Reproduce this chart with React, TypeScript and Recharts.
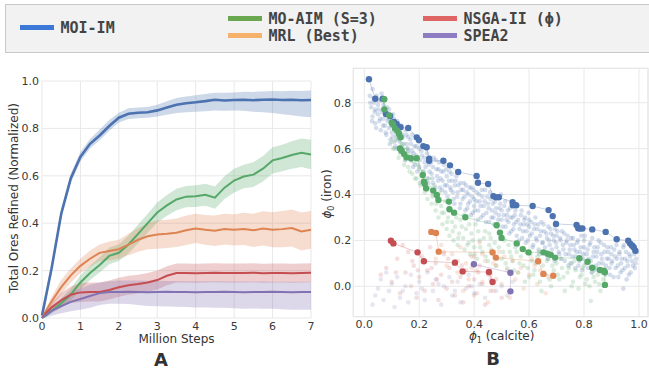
import React from 'react';
import {
  ComposedChart, Area, Line, XAxis, YAxis, CartesianGrid,
  ScatterChart, Scatter, ReferenceArea,
} from 'recharts';

// ---------- Panel A data ----------
const steps = [0, 0.1, 0.25, 0.5, 0.75, 1, 1.25, 1.5, 1.75, 2, 2.25, 2.5, 2.75, 3, 3.25, 3.5, 3.75, 4, 4.25, 4.5, 4.75, 5, 5.25, 5.5, 5.75, 6, 6.25, 6.5, 6.75, 7];

const moiMean = [0.01, 0.09, 0.21, 0.44, 0.59, 0.68, 0.735, 0.77, 0.81, 0.845, 0.862, 0.866, 0.868, 0.876, 0.888, 0.9, 0.906, 0.91, 0.915, 0.921, 0.918, 0.92, 0.921, 0.919, 0.921, 0.922, 0.92, 0.921, 0.919, 0.92];
const moiLo = [0.0, 0.07, 0.19, 0.42, 0.57, 0.66, 0.715, 0.75, 0.79, 0.825, 0.84, 0.843, 0.845, 0.85, 0.858, 0.865, 0.868, 0.87, 0.872, 0.876, 0.875, 0.876, 0.874, 0.87, 0.868, 0.865, 0.86, 0.856, 0.85, 0.847];
const moiHi = [0.02, 0.11, 0.23, 0.46, 0.61, 0.7, 0.755, 0.795, 0.835, 0.866, 0.885, 0.888, 0.89, 0.9, 0.915, 0.928, 0.935, 0.94, 0.945, 0.95, 0.95, 0.952, 0.955, 0.954, 0.956, 0.958, 0.957, 0.959, 0.958, 0.96];

const aimMean = [0, 0.01, 0.03, 0.062, 0.1, 0.15, 0.19, 0.224, 0.262, 0.275, 0.31, 0.355, 0.4, 0.445, 0.475, 0.5, 0.512, 0.514, 0.52, 0.508, 0.55, 0.58, 0.597, 0.605, 0.63, 0.665, 0.675, 0.688, 0.697, 0.69];
const aimLo = [0, 0.005, 0.02, 0.042, 0.075, 0.12, 0.16, 0.192, 0.227, 0.24, 0.272, 0.315, 0.36, 0.403, 0.431, 0.455, 0.467, 0.468, 0.474, 0.461, 0.502, 0.53, 0.547, 0.553, 0.576, 0.61, 0.619, 0.63, 0.637, 0.628];
const aimHi = [0, 0.015, 0.04, 0.082, 0.125, 0.18, 0.22, 0.256, 0.297, 0.31, 0.348, 0.395, 0.44, 0.487, 0.519, 0.545, 0.557, 0.56, 0.566, 0.555, 0.598, 0.63, 0.647, 0.657, 0.684, 0.72, 0.731, 0.746, 0.757, 0.752];

const mrlMean = [0, 0.03, 0.07, 0.13, 0.18, 0.22, 0.25, 0.275, 0.283, 0.29, 0.31, 0.33, 0.345, 0.352, 0.355, 0.36, 0.37, 0.378, 0.372, 0.368, 0.375, 0.372, 0.376, 0.37, 0.378, 0.372, 0.375, 0.38, 0.365, 0.372];
const mrlLo = [0, 0.02, 0.05, 0.1, 0.15, 0.19, 0.215, 0.24, 0.243, 0.25, 0.265, 0.28, 0.29, 0.292, 0.295, 0.3, 0.308, 0.316, 0.309, 0.304, 0.31, 0.306, 0.308, 0.3, 0.306, 0.298, 0.299, 0.302, 0.285, 0.292];
const mrlHi = [0, 0.04, 0.09, 0.16, 0.21, 0.25, 0.285, 0.31, 0.323, 0.33, 0.355, 0.38, 0.4, 0.412, 0.415, 0.42, 0.432, 0.44, 0.435, 0.432, 0.44, 0.438, 0.444, 0.44, 0.45, 0.446, 0.451, 0.458, 0.445, 0.452];

const nsgaMean = [0, 0.02, 0.045, 0.075, 0.098, 0.108, 0.11, 0.11, 0.118, 0.13, 0.138, 0.143, 0.15, 0.16, 0.178, 0.19, 0.19, 0.189, 0.19, 0.191, 0.19, 0.19, 0.19, 0.191, 0.189, 0.19, 0.19, 0.189, 0.19, 0.191];
const nsgaLo = [0, 0.01, 0.025, 0.045, 0.063, 0.068, 0.07, 0.07, 0.078, 0.09, 0.098, 0.103, 0.11, 0.12, 0.138, 0.15, 0.15, 0.149, 0.15, 0.151, 0.15, 0.15, 0.15, 0.151, 0.149, 0.15, 0.15, 0.149, 0.15, 0.151];
const nsgaHi = [0, 0.03, 0.065, 0.105, 0.133, 0.148, 0.15, 0.15, 0.158, 0.17, 0.178, 0.183, 0.19, 0.2, 0.218, 0.23, 0.23, 0.229, 0.23, 0.231, 0.23, 0.23, 0.23, 0.231, 0.229, 0.23, 0.23, 0.229, 0.23, 0.231];

const speaMean = [0, 0.012, 0.03, 0.05, 0.068, 0.08, 0.093, 0.105, 0.11, 0.11, 0.111, 0.11, 0.109, 0.11, 0.111, 0.11, 0.11, 0.109, 0.11, 0.11, 0.111, 0.11, 0.109, 0.11, 0.11, 0.111, 0.11, 0.109, 0.11, 0.11];
const speaLo = [0, 0.002, 0.01, 0.02, 0.028, 0.035, 0.043, 0.055, 0.06, 0.06, 0.059, 0.055, 0.051, 0.05, 0.049, 0.047, 0.046, 0.044, 0.044, 0.043, 0.043, 0.041, 0.039, 0.04, 0.039, 0.039, 0.037, 0.035, 0.035, 0.035];
const speaHi = [0, 0.022, 0.05, 0.08, 0.108, 0.125, 0.14, 0.15, 0.155, 0.158, 0.158, 0.158, 0.157, 0.157, 0.156, 0.156, 0.155, 0.155, 0.155, 0.155, 0.155, 0.154, 0.154, 0.154, 0.154, 0.153, 0.153, 0.153, 0.153, 0.153];

const stepTicks = [0, 1, 2, 3, 4, 5, 6, 7];
const refinedTicks = [0, 0.2, 0.4, 0.6, 0.8, 1.0];

// ---------- Panel B data ([phi1, phi0]) ----------
const moiCloud = [
  [0.02,0.83],[0.025,0.78],[0.03,0.86],[0.03,0.74],[0.035,0.8],[0.04,0.71],[0.04,0.77],[0.045,0.83],[0.05,0.75],[0.05,0.79],[0.055,0.72],[0.06,0.81],[0.06,0.68],[0.065,0.76],
  [0.07,0.73],[0.07,0.79],[0.075,0.7],[0.08,0.75],[0.08,0.66],[0.085,0.72],[0.09,0.77],[0.09,0.69],[0.095,0.64],[0.1,0.72],[0.1,0.67],[0.105,0.75],[0.11,0.7],[0.11,0.63],[0.115,0.66],[0.12,0.72],[0.12,0.6],
  [0.13,0.67],[0.13,0.63],[0.135,0.7],[0.14,0.6],[0.14,0.65],[0.15,0.68],[0.15,0.57],[0.155,0.62],[0.16,0.65],[0.16,0.59],[0.17,0.55],[0.17,0.62],[0.175,0.66],[0.18,0.58],[0.185,0.53],[0.19,0.61],[0.19,0.56],[0.2,0.6],[0.2,0.52],
  [0.21,0.57],[0.215,0.5],[0.22,0.54],[0.225,0.6],[0.23,0.47],[0.235,0.53],[0.24,0.56],[0.245,0.49],[0.25,0.52],[0.25,0.45],[0.26,0.55],[0.265,0.48],[0.27,0.51],[0.275,0.43],[0.28,0.5],[0.285,0.46],[0.29,0.53],[0.295,0.41],[0.3,0.48],[0.3,0.44],
  [0.31,0.5],[0.315,0.42],[0.32,0.46],[0.325,0.38],[0.33,0.44],[0.335,0.48],[0.34,0.41],[0.35,0.45],[0.35,0.36],[0.36,0.42],[0.365,0.39],[0.37,0.44],[0.375,0.34],[0.38,0.4],[0.385,0.37],[0.39,0.43],[0.395,0.32],[0.4,0.38],[0.4,0.35],
  [0.41,0.41],[0.415,0.33],[0.42,0.37],[0.425,0.3],[0.43,0.39],[0.435,0.35],[0.44,0.42],[0.445,0.32],[0.45,0.36],[0.455,0.28],[0.46,0.38],[0.465,0.33],[0.47,0.3],[0.475,0.37],[0.48,0.34],[0.485,0.27],[0.49,0.31],[0.495,0.36],[0.5,0.29],[0.5,0.33],
  [0.51,0.35],[0.515,0.26],[0.52,0.31],[0.525,0.28],[0.53,0.34],[0.535,0.24],[0.54,0.3],[0.545,0.27],[0.55,0.33],[0.555,0.22],[0.56,0.29],[0.565,0.25],[0.57,0.31],[0.575,0.21],[0.58,0.27],[0.585,0.3],[0.59,0.24],[0.595,0.2],[0.6,0.26],[0.6,0.29],
  [0.61,0.23],[0.615,0.18],[0.62,0.27],[0.625,0.21],[0.63,0.25],[0.635,0.16],[0.64,0.22],[0.645,0.28],[0.65,0.19],[0.655,0.24],[0.66,0.15],[0.665,0.21],[0.67,0.26],[0.675,0.18],[0.68,0.23],[0.685,0.13],[0.69,0.2],[0.695,0.25],[0.7,0.17],[0.7,0.22],
  [0.71,0.14],[0.715,0.2],[0.72,0.24],[0.725,0.16],[0.73,0.11],[0.735,0.19],[0.74,0.22],[0.745,0.14],[0.75,0.18],[0.755,0.1],[0.76,0.21],[0.765,0.16],[0.77,0.13],[0.775,0.19],[0.78,0.09],[0.785,0.15],[0.79,0.22],[0.795,0.12],[0.8,0.17],[0.8,0.2],
  [0.81,0.14],[0.815,0.08],[0.82,0.18],[0.825,0.11],[0.83,0.21],[0.835,0.15],[0.84,0.07],[0.845,0.13],[0.85,0.17],[0.855,0.1],[0.86,0.19],[0.865,0.12],[0.87,0.06],[0.875,0.15],[0.88,0.09],[0.885,0.17],[0.89,0.12],[0.895,0.05],[0.9,0.14],[0.9,0.1],
  [0.91,0.16],[0.915,0.08],[0.92,0.12],[0.925,0.04],[0.93,0.15],[0.935,0.1],[0.94,0.07],[0.945,0.18],[0.95,0.12],[0.955,0.03],[0.96,0.09],[0.965,0.14],[0.97,0.06],[0.975,0.11],[0.98,0.16],[0.985,0.08],[0.99,0.12],[0.943,-0.01],
];
const moiCloud2 = [
  [0.022,0.8],[0.028,0.72],[0.033,0.82],[0.038,0.76],[0.043,0.69],[0.048,0.81],[0.053,0.77],[0.058,0.73],[0.063,0.84],[0.068,0.7],
  [0.073,0.76],[0.078,0.67],[0.083,0.78],[0.088,0.73],[0.093,0.62],[0.098,0.7],[0.103,0.65],[0.108,0.73],[0.113,0.61],[0.118,0.68],
  [0.123,0.64],[0.128,0.7],[0.133,0.59],[0.138,0.66],[0.143,0.62],[0.148,0.55],[0.153,0.66],[0.158,0.6],[0.163,0.56],[0.168,0.64],
  [0.173,0.59],[0.178,0.52],[0.183,0.61],[0.188,0.57],[0.193,0.5],[0.198,0.63],[0.203,0.55],[0.208,0.59],[0.213,0.48],[0.218,0.56],
  [0.223,0.52],[0.228,0.58],[0.233,0.45],[0.238,0.5],[0.243,0.54],[0.248,0.47],[0.253,0.56],[0.258,0.43],[0.263,0.51],[0.268,0.46],
  [0.273,0.54],[0.278,0.47],[0.283,0.42],[0.288,0.5],[0.293,0.44],[0.298,0.51],[0.303,0.39],[0.308,0.46],[0.313,0.43],[0.318,0.49],
  [0.323,0.41],[0.328,0.36],[0.333,0.46],[0.338,0.39],[0.343,0.44],[0.348,0.34],[0.353,0.42],[0.358,0.38],[0.363,0.45],[0.368,0.33],
  [0.373,0.41],[0.378,0.36],[0.383,0.43],[0.388,0.31],[0.393,0.39],[0.398,0.42],[0.403,0.33],[0.408,0.37],[0.413,0.29],[0.418,0.4],
  [0.423,0.35],[0.428,0.42],[0.433,0.31],[0.438,0.37],[0.443,0.28],[0.448,0.39],[0.453,0.34],[0.458,0.41],[0.463,0.3],[0.468,0.36],
  [0.473,0.27],[0.478,0.32],[0.483,0.39],[0.488,0.29],[0.493,0.34],[0.498,0.4],[0.503,0.26],[0.508,0.31],[0.513,0.37],[0.518,0.29],
  [0.523,0.33],[0.528,0.23],[0.533,0.3],[0.538,0.36],[0.543,0.25],[0.548,0.31],[0.553,0.28],[0.558,0.35],[0.563,0.2],[0.568,0.27],
  [0.573,0.33],[0.578,0.24],[0.583,0.29],[0.588,0.19],[0.593,0.27],[0.598,0.32],[0.603,0.22],[0.608,0.28],[0.613,0.17],[0.618,0.25],
  [0.623,0.3],[0.628,0.2],[0.633,0.27],[0.638,0.14],[0.643,0.24],[0.648,0.19],[0.653,0.27],[0.658,0.17],[0.663,0.23],[0.668,0.12],
  [0.673,0.2],[0.678,0.25],[0.683,0.16],[0.688,0.22],[0.693,0.11],[0.698,0.19],[0.703,0.24],[0.708,0.15],[0.713,0.21],[0.718,0.12],
  [0.723,0.18],[0.728,0.23],[0.733,0.14],[0.738,0.2],[0.743,0.09],[0.748,0.16],[0.753,0.21],[0.758,0.13],[0.763,0.18],[0.768,0.08],
  [0.773,0.15],[0.778,0.2],[0.783,0.11],[0.788,0.17],[0.793,0.07],[0.798,0.14],[0.803,0.22],[0.808,0.1],[0.813,0.16],[0.818,0.12],
  [0.823,0.19],[0.828,0.06],[0.833,0.13],[0.838,0.17],[0.843,0.09],[0.848,0.15],[0.853,0.2],[0.858,0.07],[0.863,0.14],[0.868,0.1],
  [0.873,0.18],[0.878,0.05],[0.883,0.12],[0.888,0.15],[0.893,0.08],[0.898,0.17],[0.903,0.11],[0.908,0.04],[0.913,0.13],[0.918,0.18],
  [0.923,0.09],[0.928,0.14],[0.933,0.06],[0.938,0.12],[0.943,0.17],[0.948,0.08],[0.953,0.15],[0.958,0.11],[0.963,0.05],[0.968,0.13],
  [0.973,0.17],[0.978,0.09],[0.983,0.14],[0.988,0.1],[0.993,0.15],
];
const aimCloud = [
  [0.1,0.63],[0.11,0.6],[0.12,0.65],[0.13,0.58],[0.14,0.62],[0.15,0.55],[0.155,0.6],[0.16,0.52],[0.17,0.57],[0.175,0.49],[0.18,0.54],[0.19,0.47],[0.2,0.51],[0.205,0.44],[0.21,0.48],[0.22,0.41],[0.225,0.46],[0.23,0.38],[0.24,0.43],[0.245,0.36],
  [0.25,0.4],[0.26,0.33],[0.265,0.38],[0.27,0.3],[0.28,0.35],[0.285,0.27],[0.29,0.32],[0.3,0.25],[0.305,0.3],[0.31,0.22],[0.32,0.28],[0.325,0.2],[0.33,0.26],[0.34,0.18],[0.345,0.23],[0.35,0.29],[0.36,0.21],[0.365,0.16],[0.37,0.25],[0.38,0.19],
  [0.385,0.14],[0.39,0.23],[0.4,0.17],[0.405,0.27],[0.41,0.12],[0.42,0.2],[0.43,0.15],[0.44,0.24],[0.45,0.11],[0.455,0.18],[0.46,0.21],[0.47,0.14],[0.48,0.09],[0.49,0.17],[0.5,0.12],[0.51,0.2],[0.52,0.08],[0.53,0.15],[0.54,0.11],[0.55,0.17],
  [0.56,0.06],[0.57,0.13],[0.58,0.09],[0.59,0.15],[0.6,0.04],[0.61,0.11],[0.62,0.07],[0.63,0.13],[0.64,0.02],[0.65,0.09],[0.66,0.05],[0.67,0.12],[0.68,0.0],[0.69,0.07],[0.7,0.1],[0.71,0.03],[0.72,0.08],[0.73,-0.02],[0.74,0.06],[0.75,0.1],
  [0.76,0.02],[0.77,0.07],[0.78,-0.01],[0.79,0.05],[0.8,0.09],[0.81,0.03],[0.82,0.0],[0.825,-0.064],[0.83,0.06],[0.84,0.02],[0.85,0.05],[0.86,-0.02],[0.87,0.03],[0.88,0.01],[0.645,-0.02],[0.585,0.02],
];
const aimCloud2 = [
  [0.105,0.6],[0.115,0.64],[0.125,0.56],[0.135,0.61],[0.145,0.53],[0.158,0.58],[0.165,0.5],[0.172,0.55],[0.185,0.47],[0.195,0.53],
  [0.202,0.45],[0.215,0.5],[0.228,0.42],[0.235,0.47],[0.248,0.39],[0.255,0.44],[0.262,0.36],[0.275,0.41],[0.282,0.32],[0.295,0.37],
  [0.302,0.28],[0.315,0.33],[0.322,0.24],[0.335,0.3],[0.342,0.21],[0.355,0.26],[0.362,0.31],[0.375,0.18],[0.382,0.27],[0.395,0.2],
  [0.402,0.14],[0.415,0.24],[0.422,0.17],[0.435,0.21],[0.442,0.13],[0.455,0.23],[0.462,0.16],[0.475,0.19],[0.485,0.12],[0.495,0.21],
  [0.505,0.15],[0.515,0.1],[0.525,0.18],[0.535,0.13],[0.545,0.07],[0.555,0.15],[0.565,0.1],[0.575,0.16],[0.595,0.08],[0.605,0.14],
  [0.615,0.05],[0.625,0.1],[0.635,0.15],[0.655,0.06],[0.665,0.11],[0.675,0.03],[0.685,0.09],[0.705,0.05],[0.715,0.12],[0.725,0.04],
  [0.745,0.08],[0.755,0.0],[0.765,0.11],[0.785,0.04],[0.795,0.08],[0.805,0.01],[0.835,0.04],[0.845,0.08],[0.855,0.01],[0.865,0.06],
];
const nsgaCloud = [
  [0.08,0.08],[0.1,0.02],[0.12,0.12],[0.13,-0.03],[0.15,0.06],[0.16,0.15],[0.17,0.0],[0.18,0.09],[0.19,-0.05],[0.2,0.04],[0.21,0.13],[0.22,-0.02],[0.23,0.07],[0.24,0.17],[0.25,0.01],[0.26,0.1],[0.27,-0.06],[0.28,0.05],[0.29,0.14],[0.3,-0.01],
  [0.31,0.08],[0.32,0.02],[0.33,-0.04],[0.34,0.11],[0.35,0.04],[0.36,-0.07],[0.37,0.07],[0.38,0.0],[0.39,0.13],[0.4,0.03],[0.41,-0.03],[0.42,0.09],[0.43,0.01],[0.44,-0.08],[0.45,0.05],[0.46,-0.02],[0.48,0.03],[0.5,-0.05],[0.14,0.18],[0.06,0.05],
  [0.115,0.06],[0.175,0.11],[0.245,0.08],[0.305,0.12],[0.355,0.09],[0.415,0.06],[0.265,0.03],[0.195,0.07],
];
const mrlCloud = [
  [0.26,0.12],[0.28,0.18],[0.3,0.09],[0.32,0.14],[0.34,0.06],[0.35,0.17],[0.37,0.1],[0.38,0.03],[0.4,0.13],[0.41,0.07],[0.42,0.19],[0.43,0.02],[0.44,0.11],[0.46,0.05],[0.47,-0.02],[0.48,0.09],[0.49,0.15],
  [0.5,0.01],[0.52,0.07],[0.53,-0.05],[0.54,0.11],[0.55,0.03],[0.57,0.08],[0.58,-0.01],[0.6,0.05],[0.61,0.12],[0.63,0.01],[0.64,0.07],[0.66,-0.03],[0.67,0.04],[0.45,-0.07],[0.51,0.13],[0.36,-0.02],[0.4,-0.04],
  [0.29,0.15],[0.33,0.11],[0.39,0.08],[0.43,0.14],[0.47,0.1],[0.56,0.06],[0.62,0.09],
];
const speaCloud = [
  [0.03,-0.08],[0.04,-0.04],[0.05,-0.01],[0.06,0.03],[0.07,-0.06],[0.08,0.06],[0.09,-0.02],[0.1,0.01],[0.11,-0.09],[0.12,0.04],[0.13,-0.05],[0.15,0.0],[0.16,-0.07],[0.17,0.05],[0.19,-0.03],[0.2,0.02],[0.22,-0.06],[0.23,0.06],
  [0.25,-0.02],[0.26,0.03],[0.28,-0.08],[0.29,0.0],[0.31,0.04],[0.32,-0.04],[0.34,0.02],[0.35,-0.07],[0.37,-0.01],[0.38,0.05],[0.4,-0.03],[0.42,0.01],[0.44,-0.05],[0.46,0.03],[0.48,-0.02],[0.5,0.0],[0.52,-0.04],[0.54,0.02],
  [0.14,-0.02],[0.21,-0.01],[0.27,0.01],[0.33,-0.02],[0.39,0.0],
];

const moiFront = [
  [0.017,0.902],[0.04,0.817],[0.067,0.817],[0.079,0.751],[0.094,0.742],[0.108,0.716],[0.118,0.707],[0.132,0.693],[0.16,0.69],[0.191,0.649],[0.199,0.637],[0.215,0.611],[0.227,0.606],[0.236,0.556],[0.236,0.547],
  [0.288,0.547],[0.312,0.527],[0.342,0.498],[0.409,0.481],[0.414,0.451],[0.451,0.446],[0.47,0.393],[0.479,0.388],[0.49,0.388],[0.54,0.367],[0.541,0.353],[0.553,0.353],[0.613,0.35],[0.671,0.332],[0.686,0.306],
  [0.698,0.272],[0.773,0.267],[0.779,0.253],[0.785,0.252],[0.794,0.252],[0.83,0.248],[0.879,0.237],[0.919,0.205],[0.961,0.199],[0.968,0.186],[0.975,0.178],[0.981,0.17],[0.987,0.155],
];
const aimFront = [
  [0.073,0.815],[0.073,0.771],[0.091,0.745],[0.1,0.713],[0.105,0.705],[0.112,0.688],[0.12,0.678],[0.127,0.664],[0.132,0.649],[0.13,0.601],[0.136,0.591],[0.145,0.576],[0.154,0.562],[0.17,0.558],[0.191,0.558],
  [0.213,0.485],[0.217,0.456],[0.22,0.447],[0.225,0.427],[0.251,0.417],[0.264,0.398],[0.27,0.376],[0.308,0.369],[0.31,0.336],[0.327,0.321],[0.368,0.301],[0.482,0.266],[0.494,0.234],[0.5,0.211],[0.555,0.187],
  [0.577,0.162],[0.598,0.148],[0.652,0.148],[0.667,0.142],[0.679,0.137],[0.695,0.125],[0.783,0.122],[0.813,0.107],[0.83,0.081],[0.858,0.071],[0.873,0.068],[0.876,0.061],[0.876,0.006],
];
const nsgaFront = [[0.097,0.199],[0.106,0.187],[0.194,0.148],[0.217,0.109],[0.33,0.103],[0.358,0.065],[0.454,0.062],[0.467,0.019]];
const mrlFront = [[0.244,0.237],[0.261,0.232],[0.271,0.151],[0.467,0.148],[0.479,0.125],[0.633,0.109],[0.652,0.054],[0.688,0.046]];
const speaFront = [[0.399,0.096],[0.532,0.059],[0.532,-0.022]];

const phi1Ticks = [0, 0.2, 0.4, 0.6, 0.8, 1.0];
const phi0Ticks = [0, 0.2, 0.4, 0.6, 0.8];
const phi1Domain = [-0.04, 1.033];
const phi0Domain = [-0.1325, 0.95];

// ---------- styling ----------
const C = { blue: '#4c72b0', green: '#55a868', orange: '#dd8452', red: '#c44e52', purple: '#8172b3' };
const LEG = { blue: '#3c78d8', green: '#6aa84f', orange: '#f6b26b', red: '#e06666', purple: '#8e7cc3' };
const FONT = '"DejaVu Sans", sans-serif';
const TICK = { fontSize: 11, fill: '#3a3a3a', fontFamily: FONT };
const GRID = '#e8e8e8';

const rows = steps.map((s, i) => ({
  step: s,
  moi: moiMean[i], moiBand: [moiLo[i], moiHi[i]],
  aim: aimMean[i], aimBand: [aimLo[i], aimHi[i]],
  mrl: mrlMean[i], mrlBand: [mrlLo[i], mrlHi[i]],
  nsga: nsgaMean[i], nsgaBand: [nsgaLo[i], nsgaHi[i]],
  spea: speaMean[i], speaBand: [speaLo[i], speaHi[i]],
}));

const toPts = (arr: number[][]) => arr.map(([x, y]) => ({ x, y }));

const dot = (r: number, color: string, op: number) => (p: any) =>
  <circle cx={p.cx} cy={p.cy} r={r} fill={color} fillOpacity={op} stroke="none" />;

const legendItems = [
  { label: 'MOI-IM', color: LEG.blue, x: 20, y: 27.5 },
  { label: 'MO-AIM (S=3)', color: LEG.green, x: 228, y: 18.7 },
  { label: 'MRL (Best)', color: LEG.orange, x: 228, y: 35.7 },
  { label: 'NSGA-II (ϕ)', color: LEG.red, x: 423, y: 18.7 },
  { label: 'SPEA2', color: LEG.purple, x: 423, y: 35.7 },
];

const abs = (extra: React.CSSProperties): React.CSSProperties => ({ position: 'absolute', ...extra });
const labelStyle = (left: number, top: number, rotate = false): React.CSSProperties => abs({
  left, top, transform: rotate ? 'translate(-50%, -50%) rotate(-90deg)' : 'translate(-50%, -50%)',
  fontSize: 12, lineHeight: 1, color: '#333', whiteSpace: 'nowrap',
});
const subStyle: React.CSSProperties = { fontSize: 8, position: 'relative', top: 3, lineHeight: 1 };

export default function App() {
  const bands: [string, string][] = [['moiBand', C.blue], ['aimBand', C.green], ['mrlBand', C.orange], ['nsgaBand', C.red], ['speaBand', C.purple]];
  const lines: [string, string, number][] = [['moi', C.blue, 2.6], ['aim', C.green, 2], ['mrl', C.orange, 2], ['nsga', C.red, 2], ['spea', C.purple, 2]];
  const clouds: [number[][], string, number][] = [
    [moiCloud, C.blue, 0.24], [moiCloud2, C.blue, 0.24], [aimCloud, C.green, 0.22], [aimCloud2, C.green, 0.22],
    [mrlCloud, C.orange, 0.2], [nsgaCloud, C.red, 0.18], [speaCloud, C.purple, 0.18],
  ];
  const fronts: [number[][], string][] = [[moiFront, C.blue], [aimFront, C.green], [mrlFront, C.orange], [nsgaFront, C.red], [speaFront, C.purple]];
  return (
    <div style={abs({ left: 0, top: 0, width: 649, height: 372, background: '#fff', overflow: 'hidden', fontFamily: FONT })}>
      {/* Legend */}
      <div style={abs({ left: 5, top: 4, width: 660, height: 49, background: '#f2f2f2', border: '1px solid #c9c9c9', boxSizing: 'border-box' })} />
      {legendItems.map((it) => (
        <React.Fragment key={it.label}>
          <div style={abs({ left: it.x, top: it.y - 2.3, width: 34, height: 4.6, background: it.color })} />
          <div style={abs({ left: it.x + 40.5, top: it.y - 10, height: 20, lineHeight: '20px', fontFamily: '"DejaVu Sans Mono", monospace', fontWeight: 'bold', fontSize: 15, color: '#444', whiteSpace: 'nowrap' })}>{it.label}</div>
        </React.Fragment>
      ))}

      {/* Panel A */}
      <div style={abs({ left: 0, top: 0 })}>
        <ComposedChart width={330} height={372} data={rows} margin={{ top: 81, right: 19, left: 12, bottom: 24 }}>
          <CartesianGrid stroke={GRID} strokeWidth={1} />
          <XAxis type="number" dataKey="step" domain={[0, 7]} ticks={stepTicks} axisLine={false} tickLine={false} tickSize={0} tickMargin={4} height={30} tick={TICK} />
          <YAxis type="number" domain={[0, 1]} ticks={refinedTicks} axisLine={false} tickLine={false} tickSize={0} tickMargin={3} width={30} tick={TICK} tickFormatter={(v: number) => v.toFixed(1)} />
          {bands.map(([k, c]) => (
            <Area key={k} dataKey={k} type="linear" stroke="none" fill={c} fillOpacity={0.28} isAnimationActive={false} />
          ))}
          {lines.map(([k, c, w]) => (
            <Line key={k} dataKey={k} type="linear" stroke={c} strokeWidth={w} dot={false} activeDot={false} isAnimationActive={false} />
          ))}
        </ComposedChart>
      </div>
      <div style={labelStyle(14, 198, true)}>Total Ores Refined (Normalized)</div>
      <div style={labelStyle(176.5, 338.5)}>Million Steps</div>
      <div style={abs({ left: 161, top: 360, transform: 'translate(-50%, -50%)', fontSize: 18, lineHeight: 1, fontWeight: 'bold', color: '#333' })}>A</div>

      {/* Panel B */}
      <div style={abs({ left: 320, top: 0 })}>
        <ScatterChart width={329} height={372} margin={{ top: 68.3, right: 1, left: 5.3, bottom: 25.3 }}>
          <CartesianGrid stroke={GRID} strokeWidth={1} />
          <ReferenceArea x1={phi1Domain[0]} x2={phi1Domain[1]} y1={phi0Domain[0]} y2={phi0Domain[1]} fill="none" stroke={GRID} strokeWidth={1.2} ifOverflow="visible" />
          <XAxis type="number" dataKey="x" domain={phi1Domain} ticks={phi1Ticks} axisLine={false} tickLine={false} tickSize={0} tickMargin={3} height={30} tick={TICK} tickFormatter={(v: number) => v.toFixed(1)} allowDataOverflow />
          <YAxis type="number" dataKey="y" domain={phi0Domain} ticks={phi0Ticks} axisLine={false} tickLine={false} tickSize={0} tickMargin={2} width={28} tick={TICK} tickFormatter={(v: number) => v.toFixed(1)} allowDataOverflow />
          {clouds.map(([pts, c, op], i) => (
            <Scatter key={'c' + i} data={toPts(pts)} shape={dot(2.3, c, op)} isAnimationActive={false} />
          ))}
          {fronts.map(([pts, c], i) => (
            <Scatter key={'f' + i} data={toPts(pts)} line={{ stroke: c, strokeOpacity: 0.3, strokeWidth: 1 }} lineJointType="linear" shape={dot(3.2, c, 1)} isAnimationActive={false} />
          ))}
        </ScatterChart>
      </div>
      <div style={labelStyle(327, 194, true)}>
        <i>ϕ</i><span style={subStyle}>0</span> (iron)
      </div>
      <div style={labelStyle(501.7, 336)}>
        <i>ϕ</i><span style={subStyle}>1</span> (calcite)
      </div>
      <div style={abs({ left: 493, top: 359, transform: 'translate(-50%, -50%)', fontSize: 18, lineHeight: 1, fontWeight: 'bold', color: '#333' })}>B</div>
    </div>
  );
}
